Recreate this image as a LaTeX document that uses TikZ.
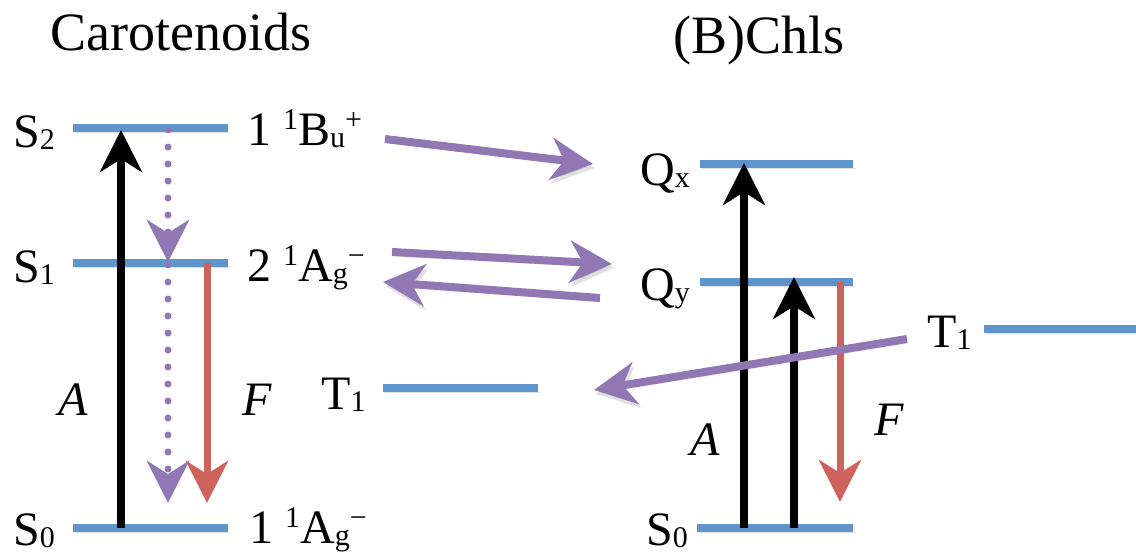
\documentclass[tikz,border=0pt]{standalone}
\usepackage{fontspec}
\setmainfont{Liberation Serif}
\usetikzlibrary{arrows.meta}
\definecolor{lvlblue}{HTML}{5E96CB}
\definecolor{ppl}{HTML}{9178B4}
\definecolor{rd}{HTML}{CE625C}
\newcommand\lsub[1]{\raisebox{-0.06em}{\fontsize{30}{30}\selectfont #1}}
\newcommand\lsup[1]{\raisebox{0.32em}{\fontsize{30}{30}\selectfont #1}}
\begin{document}
\begin{tikzpicture}[x=1pt,y=-1pt,
 shadowed/.style={preaction={draw=black, opacity=0.12, transform canvas={shift={(2pt,-4pt)}}}},
 level/.style={draw=lvlblue, line width=8pt, shadowed},
 tipA/.style={-{Stealth[length=42pt,width=42pt,inset=13pt]}},
 absorb/.style={tipA, draw=black, line width=7.5pt},
 fluor/.style={tipA, draw=rd, line width=7pt},
 transfer/.style={tipA, draw=ppl, line width=8pt, shadowed},
 dots/.style={tipA, draw=ppl, line width=7pt, line cap=round, dash pattern=on 0pt off 17pt},
 lbl/.style={inner sep=0pt, anchor=base west, font=\fontsize{48}{48}\selectfont},
 ttl/.style={inner sep=0pt, anchor=base west, font=\fontsize{54}{54}\selectfont},
]
\useasboundingbox (0,0) rectangle (1136,554);

% titles
\node[ttl] (tC) at (50,50) {Carotenoids};
\node[ttl] (tB) at (673,53) {(B)Chls};

% left levels
\coordinate (S2a) at (73,128); \coordinate (S2b) at (228,128);
\coordinate (S1a) at (73,263); \coordinate (S1b) at (228,263);
\coordinate (S0a) at (73,528); \coordinate (S0b) at (228,528);
\coordinate (T1a) at (383,388); \coordinate (T1b) at (538,388);
\draw[level] (S2a) -- (S2b);
\draw[level] (S1a) -- (S1b);
\draw[level] (S0a) -- (S0b);
\draw[level] (T1a) -- (T1b);

% right levels
\coordinate (Qxa) at (700,164); \coordinate (Qxb) at (853,164);
\coordinate (Qya) at (700,282); \coordinate (Qyb) at (853,282);
\coordinate (R0a) at (697,528); \coordinate (R0b) at (853,528);
\coordinate (RTa) at (984,329); \coordinate (RTb) at (1136,329);
\draw[level] (Qxa) -- (Qxb);
\draw[level] (Qya) -- (Qyb);
\draw[level] (R0a) -- (R0b);
\draw[level] (RTa) -- (RTb);

% left labels
\node[lbl] (lS2) at (13,147) {S\lsub{2}};
\node[lbl] (lS1) at (13,282) {S\lsub{1}};
\node[lbl] (lS0) at (13,545) {S\lsub{0}};
\node[lbl] (lB) at (247,145) {1 \lsup{1}B\lsub{u}\lsup{+}};
\node[lbl] (lAg) at (247,281) {2 \lsup{1}A\lsub{g}\lsup{−}};
\node[lbl] (lAg0) at (249,543) {1 \lsup{1}A\lsub{g}\lsup{−}};
\node[lbl] (lT1) at (321,409) {T\lsub{1}};
\node[lbl] (lA) at (58,415) {\itshape A};
\node[lbl] (lF) at (242,415) {\itshape F};

% right labels
\node[lbl] (lQx) at (640,185) {Q\lsub{x}};
\node[lbl] (lQy) at (640,300) {Q\lsub{y}};
\node[lbl] (lR0) at (646,545) {S\lsub{0}};
\node[lbl] (lRT) at (927,347) {T\lsub{1}};
\node[lbl] (lRA) at (690,455) {\itshape A};
\node[lbl] (lRF) at (874,435) {\itshape F};

% left transitions
\coordinate (a0) at (121,528); \coordinate (a2) at (121,130);
\draw[absorb] (a0) -- (a2);
\coordinate (d2) at (168,130); \coordinate (d1) at (168,262);
\draw[dots] (d2) -- (d1);
\coordinate (e1) at (168,265); \coordinate (e0) at (168,503);
\draw[dots] (e1) -- (e0);
\coordinate (f1) at (207,263); \coordinate (f0) at (207,503);
\draw[fluor] (f1) -- (f0);

% right transitions
\coordinate (b0) at (744,528); \coordinate (bx) at (744,163);
\draw[absorb] (b0) -- (bx);
\coordinate (c0) at (794,528); \coordinate (cy) at (794,277);
\draw[absorb] (c0) -- (cy);
\coordinate (g1) at (840,282); \coordinate (g0) at (840,502);
\draw[fluor] (g1) -- (g0);

% energy transfer arrows
\coordinate (p1s) at (385,139); \coordinate (p1e) at (593,164);
\draw[transfer] (p1s) -- (p1e);
\coordinate (p2s) at (392,252); \coordinate (p2e) at (612,264);
\draw[transfer] (p2s) -- (p2e);
\coordinate (p3s) at (600,298); \coordinate (p3e) at (383,282);
\draw[transfer] (p3s) -- (p3e);
\coordinate (p4s) at (907,339); \coordinate (p4e) at (594,390);
\draw[transfer] (p4s) -- (p4e);
\end{tikzpicture}
\end{document}
